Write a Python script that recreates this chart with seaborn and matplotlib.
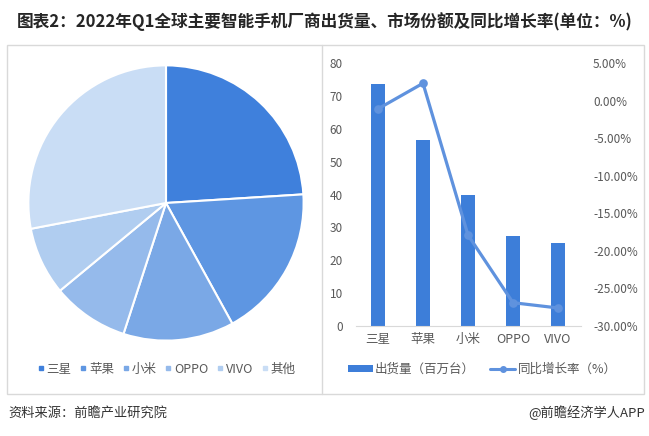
#%% Librerias
import numpy as np
import pandas as pd
import matplotlib
matplotlib.use('Agg')
import matplotlib.pyplot as plt
from matplotlib.lines import Line2D
from matplotlib.patches import Patch, Rectangle
import seaborn as sns

sns.set_style('white')
plt.rcParams['font.family'] = ['Noto Sans CJK SC', 'DejaVu Sans']
plt.rcParams['axes.unicode_minus'] = False

#%% Datos
marcas = ['三星', '苹果', '小米', 'OPPO', 'VIVO']
pie_etiquetas = ['三星', '苹果', '小米', 'OPPO', 'VIVO', '其他']
cuota = [24, 18, 13, 9, 8, 28]                  # % cuota de mercado
envios = [73.7, 56.5, 40.0, 27.4, 25.3]         # millones de unidades
crecimiento = [-1.1, 2.3, -17.9, -26.9, -27.6]  # % interanual

pie_colores = ['#3f80dc', '#5e96e2', '#7aa8e6', '#95baeb', '#b0cdf0', '#c9ddf5']
color_barra = '#3d7ed9'
color_linea = '#5f92de'
gris = '#595959'

df = pd.DataFrame({'marca': marcas, 'envios': envios, 'crec': crecimiento})

W, H = 649, 436
fig = plt.figure(figsize=(W / 100, H / 100), dpi=100)

#%% Marco y titulo
fig.patches.append(Rectangle((7 / W, 1 - 394 / H), 637 / W, 349 / H, transform=fig.transFigure,
                             fill=False, edgecolor='#d9d9d9', linewidth=1))
fig.lines.append(Line2D([322 / W, 322 / W], [1 - 45 / H, 1 - 394 / H], transform=fig.transFigure,
                        color='#d9d9d9', linewidth=1))
fig.text(325 / W, 1 - 22 / H, '图表2：2022年Q1全球主要智能手机厂商出货量、市场份额及同比增长率(单位：%)',
         ha='center', va='center', fontsize=12, fontweight='bold', color='#262626')

#%% Pastel
r = 139
ax_p = fig.add_axes([(166 - r) / W, (H - 203 - r) / H, 2 * r / W, 2 * r / H])
ax_p.pie(cuota, colors=pie_colores, startangle=90, counterclock=False, radius=1,
         wedgeprops=dict(edgecolor='white', linewidth=1.5))
ax_p.set_xlim(-1.01, 1.01)
ax_p.set_ylim(-1.01, 1.01)
ax_p.set_axis_off()

h_pie = [Line2D([], [], marker='s', linestyle='', markersize=3.5, color=c) for c in pie_colores]
fig.legend(h_pie, pie_etiquetas, loc='center', bbox_to_anchor=(167 / W, 1 - 369 / H), ncol=6,
           frameon=False, fontsize=9, handlelength=0.4, handletextpad=0.25, columnspacing=0.75,
           labelcolor=gris)

#%% Barras + linea
ax = fig.add_axes([355.5 / W, 110 / H, 225 / W, 263 / H])
sns.barplot(data=df, x='marca', y='envios', ax=ax, color=color_barra, width=0.3,
            saturation=1, edgecolor='none')
ax.set_ylim(0, 80)
ax.set_yticks(range(0, 81, 10))
ax.set_xlim(-0.5, 4.5)
ax.set_xlabel('')
ax.set_ylabel('')
for s in ['top', 'right', 'left']:
    ax.spines[s].set_visible(False)
ax.spines['bottom'].set_color('#d9d9d9')
ax.tick_params(axis='y', length=0, pad=9, labelsize=8.5, labelcolor=gris)
ax.tick_params(axis='x', length=0, pad=5, labelsize=9, labelcolor=gris)

ax2 = ax.twinx()
sns.pointplot(data=df, x='marca', y='crec', ax=ax2, color=color_linea, markers='o',
              markersize=4.5, linewidth=2.3, errorbar=None)
ax2.set_ylim(-30, 5)
ax2.set_yticks(np.arange(-30, 6, 5))
ax2.set_yticklabels([f'{v:.2f}%' for v in np.arange(-30, 6, 5)])
ax2.set_xlim(-0.5, 4.5)
ax2.set_xlabel('')
ax2.set_ylabel('')
for s in ax2.spines.values():
    s.set_visible(False)
ax2.tick_params(axis='y', length=0, pad=9, labelsize=8.5, labelcolor=gris)

h_bar = [Patch(facecolor=color_barra, edgecolor='none'),
         Line2D([], [], color=color_linea, linewidth=2.2, marker='o', markersize=4)]
fig.legend(h_bar, ['出货量（百万台）', '同比增长率（%）'], loc='center',
           bbox_to_anchor=(482 / W, 1 - 369 / H), ncol=2, frameon=False, fontsize=9,
           handlelength=2.0, handleheight=0.5, handletextpad=0.2, columnspacing=1.2,
           labelcolor=gris)

#%% Pie de pagina
fig.text(8 / W, 1 - 413 / H, '资料来源：前瞻产业研究院', ha='left', va='center',
         fontsize=9.5, color='#333333')
fig.text(645 / W, 1 - 413 / H, '@前瞻经济学人APP', ha='right', va='center',
         fontsize=9.5, color='#333333')

fig.savefig('out.png', dpi=100)
